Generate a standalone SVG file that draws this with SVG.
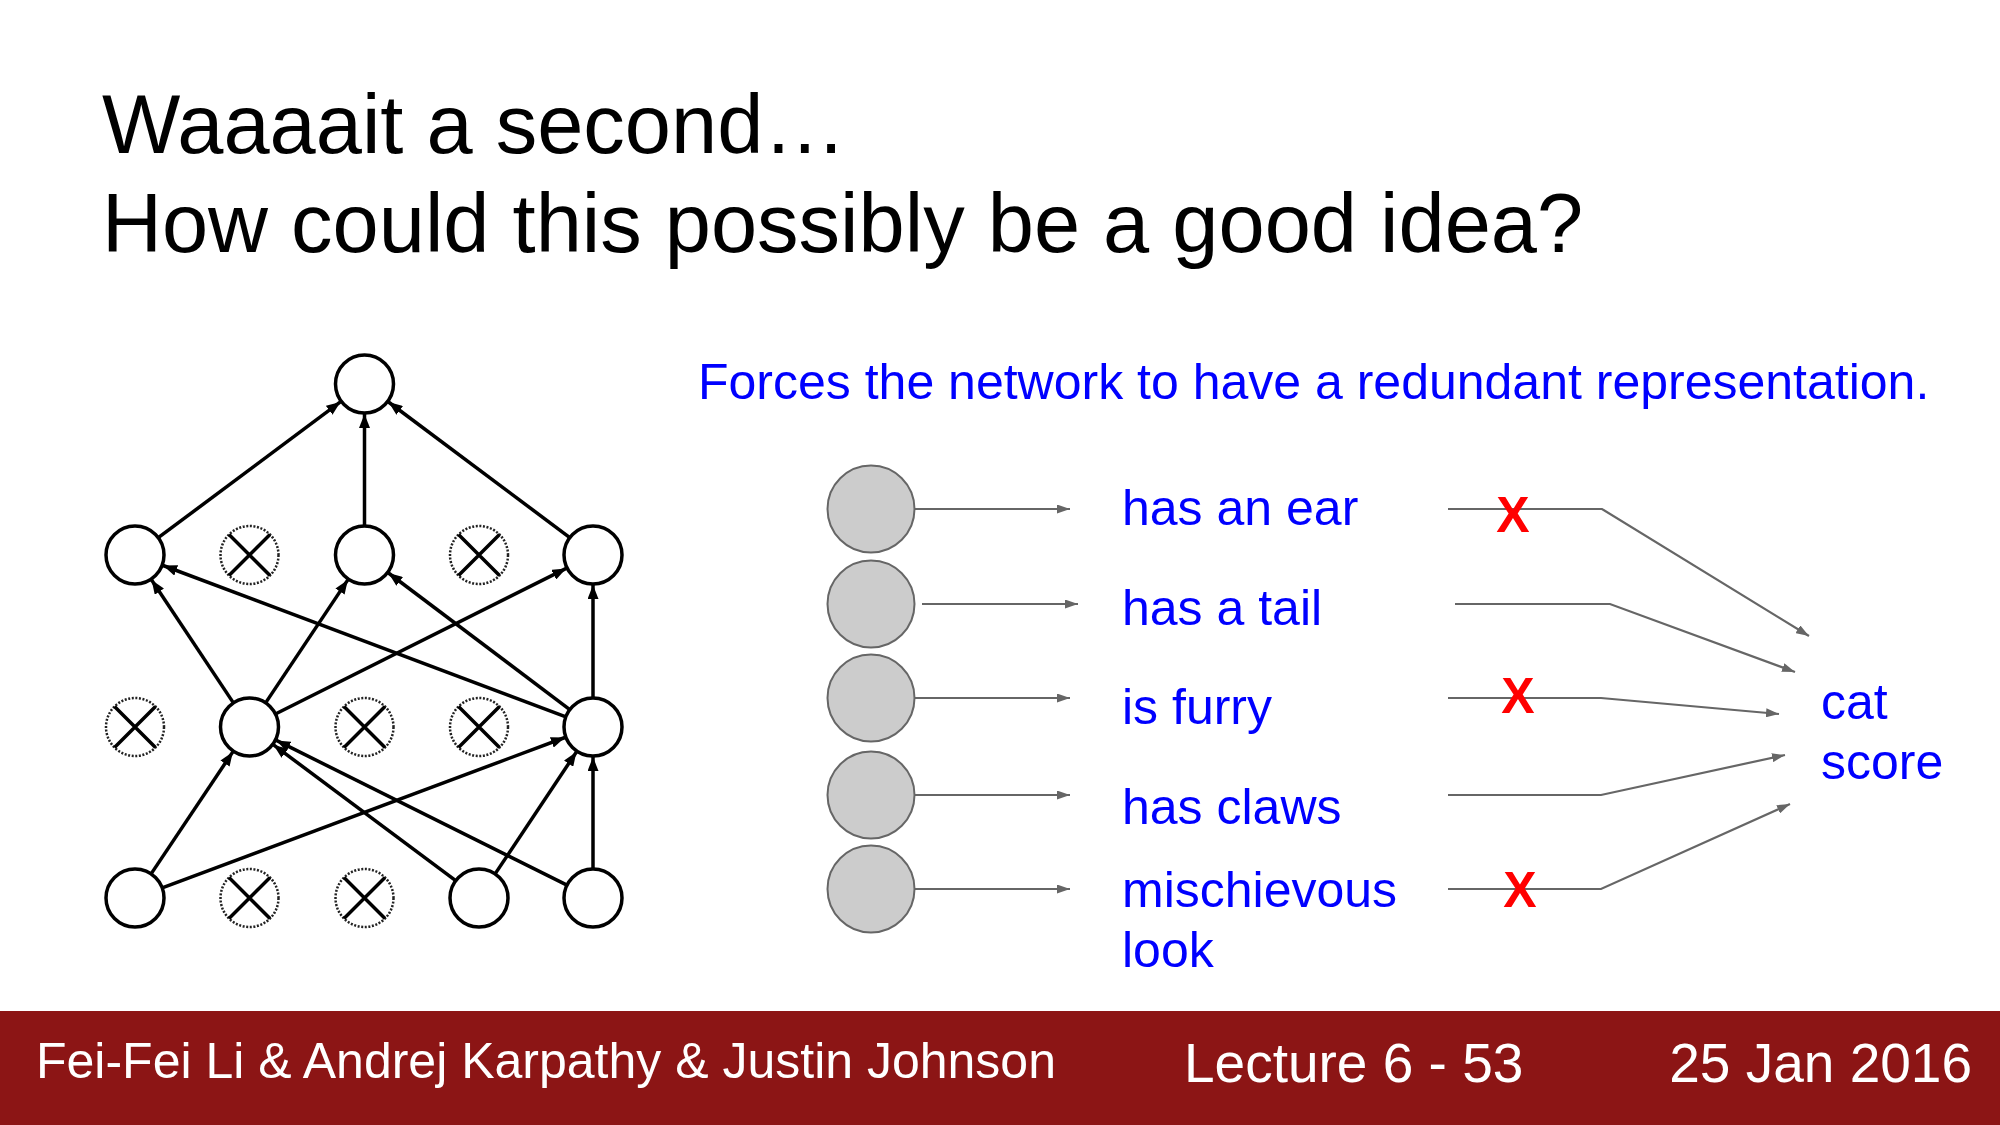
<svg xmlns="http://www.w3.org/2000/svg" width="2000" height="1125" viewBox="0 0 2000 1125">
<style>
.title{font-family:"Liberation Sans",Arial,sans-serif;font-size:83px;fill:#000}
.blue{font-family:"Liberation Sans",Arial,sans-serif;font-size:50px;fill:#0000ff}
.x{font-family:"Liberation Sans",Arial,sans-serif;font-size:50px;font-weight:bold;fill:#ff0000;text-anchor:middle}
.foot{font-family:"Liberation Sans",Arial,sans-serif;font-size:55px;fill:#ffffff}
.foot1{font-family:"Liberation Sans",Arial,sans-serif;font-size:50px;fill:#ffffff}
.n{fill:#fff;stroke:#000;stroke-width:3.5}
.d{fill:#fff;stroke:#222;stroke-width:2.5;stroke-dasharray:2 1.6}
.dx{stroke:#000;stroke-width:3.5}
.e{stroke:#000;stroke-width:3.5;fill:none;marker-end:url(#ab)}
.g{fill:#cccccc;stroke:#666666;stroke-width:2}
.gl{stroke:#666666;stroke-width:2.2;fill:none;marker-end:url(#ag)}
</style>
<defs>
<marker id="ab" markerUnits="userSpaceOnUse" viewBox="0 0 14 11" refX="14" refY="5.5" markerWidth="14" markerHeight="11" orient="auto"><path d="M0,0 L14,5.5 L0,11 z" fill="#000"/></marker>
<marker id="ag" markerUnits="userSpaceOnUse" viewBox="0 0 13 9" refX="13" refY="4.5" markerWidth="13" markerHeight="9" orient="auto"><path d="M0,0 L13,4.5 L0,9 z" fill="#666666"/></marker>
</defs>
<rect x="0" y="0" width="2000" height="1125" fill="#fff"/>

<g id="title">
<text class="title" x="102" y="153">Waaaait a second…</text>
<text class="title" x="102" y="252">How could this possibly be a good idea?</text>
</g>
<g id="subtitle"><text class="blue" x="698" y="399">Forces the network to have a redundant representation.</text></g>

<g id="connectors">
<line class="e" x1="158.3" y1="537.7" x2="340.4" y2="401.9"/>
<line class="e" x1="364.5" y1="526" x2="364.5" y2="414"/>
<line class="e" x1="569.8" y1="537.6" x2="388.5" y2="402"/>
<line class="e" x1="233.4" y1="702.9" x2="151.6" y2="580"/>
<line class="e" x1="265.6" y1="702.9" x2="347.8" y2="579.9"/>
<line class="e" x1="275.4" y1="714" x2="566.2" y2="568.4"/>
<line class="e" x1="565.9" y1="716.8" x2="163.1" y2="565.5"/>
<line class="e" x1="569.8" y1="709.6" x2="388.5" y2="573"/>
<line class="e" x1="593" y1="698" x2="593" y2="585"/>
<line class="e" x1="151.1" y1="873.9" x2="232.8" y2="751.9"/>
<line class="e" x1="162.2" y1="887.9" x2="564.9" y2="737.5"/>
<line class="e" x1="455.7" y1="880.7" x2="273.6" y2="744.9"/>
<line class="e" x1="495.1" y1="873.9" x2="576.4" y2="752"/>
<line class="e" x1="567" y1="885.1" x2="276.4" y2="740.4"/>
<line class="e" x1="593" y1="869" x2="593" y2="757"/>

<line class="gl" x1="915" y1="509" x2="1070" y2="509"/>
<line class="gl" x1="922" y1="604" x2="1078" y2="604"/>
<line class="gl" x1="915" y1="698" x2="1070" y2="698"/>
<line class="gl" x1="915" y1="795" x2="1070" y2="795"/>
<line class="gl" x1="915" y1="889" x2="1070" y2="889"/>

<polyline class="gl" points="1448,509 1602,509 1809,636"/>
<polyline class="gl" points="1455,604 1610,604 1795,672"/>
<polyline class="gl" points="1448,698 1601,698 1779,714"/>
<polyline class="gl" points="1448,795 1601,795 1785,755"/>
<polyline class="gl" points="1448,889 1601,889 1790,804"/>
</g>

<g id="node-top"><circle class="n" cx="364.5" cy="384" r="29"/></g>
<g id="node-h1-0"><circle class="n" cx="135" cy="555" r="29"/></g>
<g id="node-h1-1"><circle class="d" cx="249.5" cy="555" r="29"/><path class="dx" d="M229,534.5 L270,575.5 M270,534.5 L229,575.5"/></g>
<g id="node-h1-2"><circle class="n" cx="364.5" cy="555" r="29"/></g>
<g id="node-h1-3"><circle class="d" cx="479" cy="555" r="29"/><path class="dx" d="M458.5,534.5 L499.5,575.5 M499.5,534.5 L458.5,575.5"/></g>
<g id="node-h1-4"><circle class="n" cx="593" cy="555" r="29"/></g>

<g id="node-h2-0"><circle class="d" cx="135" cy="727" r="29"/><path class="dx" d="M114.5,706.5 L155.5,747.5 M155.5,706.5 L114.5,747.5"/></g>
<g id="node-h2-1"><circle class="n" cx="249.5" cy="727" r="29"/></g>
<g id="node-h2-2"><circle class="d" cx="364.5" cy="727" r="29"/><path class="dx" d="M344,706.5 L385,747.5 M385,706.5 L344,747.5"/></g>
<g id="node-h2-3"><circle class="d" cx="479" cy="727" r="29"/><path class="dx" d="M458.5,706.5 L499.5,747.5 M499.5,706.5 L458.5,747.5"/></g>
<g id="node-h2-4"><circle class="n" cx="593" cy="727" r="29"/></g>

<g id="node-in-0"><circle class="n" cx="135" cy="898" r="29"/></g>
<g id="node-in-1"><circle class="d" cx="249.5" cy="898" r="29"/><path class="dx" d="M229,877.5 L270,918.5 M270,877.5 L229,918.5"/></g>
<g id="node-in-2"><circle class="d" cx="364.5" cy="898" r="29"/><path class="dx" d="M344,877.5 L385,918.5 M385,877.5 L344,918.5"/></g>
<g id="node-in-3"><circle class="n" cx="479" cy="898" r="29"/></g>
<g id="node-in-4"><circle class="n" cx="593" cy="898" r="29"/></g>

<g id="unit-1"><circle class="g" cx="871" cy="509" r="43.5"/></g>
<g id="unit-2"><circle class="g" cx="871" cy="604" r="43.5"/></g>
<g id="unit-3"><circle class="g" cx="871" cy="698" r="43.5"/></g>
<g id="unit-4"><circle class="g" cx="871" cy="795" r="43.5"/></g>
<g id="unit-5"><circle class="g" cx="871" cy="889" r="43.5"/></g>

<g id="label-ear"><text class="blue" x="1122" y="525">has an ear</text></g>
<g id="label-tail"><text class="blue" x="1122" y="625">has a tail</text></g>
<g id="label-furry"><text class="blue" x="1122" y="724">is furry</text></g>
<g id="label-claws"><text class="blue" x="1122" y="824">has claws</text></g>
<g id="label-look"><text class="blue" x="1122" y="907">mischievous<tspan x="1122" y="967">look</tspan></text></g>

<g id="drop-marks">
<text class="x" x="1513" y="532">X</text>
<text class="x" x="1518" y="713">X</text>
<text class="x" x="1520" y="907">X</text>
</g>

<g id="cat-score"><text class="blue" x="1821" y="719">cat<tspan x="1821" y="779">score</tspan></text></g>

<g id="footer">
<rect x="0" y="1011" width="2000" height="114" fill="#8c1515"/>
<text class="foot1" x="36" y="1078">Fei-Fei Li &amp; Andrej Karpathy &amp; Justin Johnson</text>
<text class="foot" x="1184" y="1082">Lecture 6 - 53</text>
<text class="foot" x="1972" y="1082" text-anchor="end">25 Jan 2016</text>
</g>
</svg>
